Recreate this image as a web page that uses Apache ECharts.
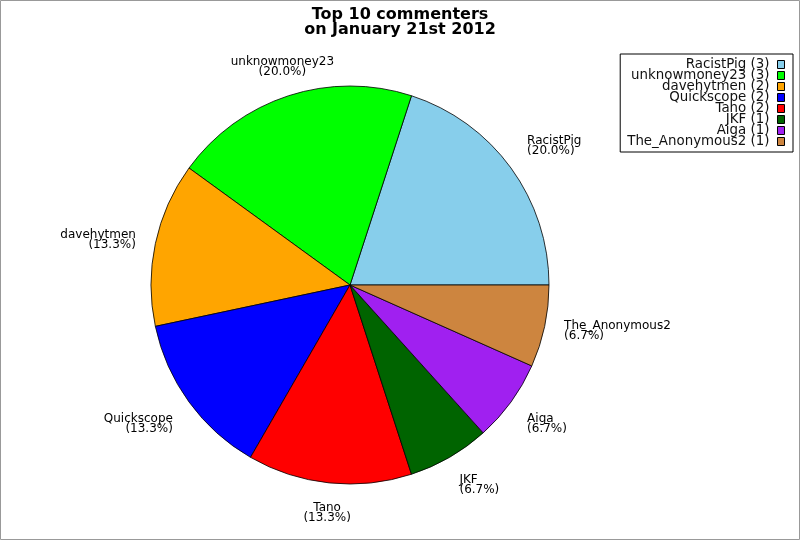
<!DOCTYPE html>
<html>
<head>
<meta charset="utf-8">
<script src="https://cdn.jsdelivr.net/npm/echarts@6/dist/echarts.min.js"></script>
<style>
    html, body { margin: 0; padding: 0; background: #fff; }
    #chart { width: 800px; height: 540px; }
</style>
</head>
<body>
<div id="chart"></div>
<script>
// 数据
const names = ["RacistPig", "unknowmoney23", "davehytmen", "Quickscope", "Tano", "JKF", "Aiga", "The_Anonymous2"];
const counts = [3, 3, 2, 2, 2, 1, 1, 1];
const colors = ["#87ceeb", "#00ff00", "#ffa500", "#0000ff", "#ff0000", "#006400", "#a020f0", "#cd853f"];

(function () {
    const my_echart = echarts.init(document.querySelector("#chart"));
    const total = counts.reduce(function (a, b) { return a + b; }, 0);
    const cx = 350, cy = 285, r = 199; //饼图圆心和半径（像素）

    //每块扇形中间的角度（从3点钟方向逆时针）
    const mid_angles = [];
    let cum = 0;
    counts.forEach(function (v) {
        mid_angles.push((cum + v / 2) / total * Math.PI * 2);
        cum += v;
    });

    const data = names.map(function (n, i) {
        return { name: n, value: counts[i], itemStyle: { color: colors[i] } };
    });

    let option = {
        backgroundColor: "#fff",
        animation: false,
        title: {
            text: "Top 10 commenters\non January 21st 2012",
            left: "center",
            top: 2,
            textStyle: {
                fontFamily: "DejaVu Sans",
                fontSize: 16,
                fontWeight: "bold",
                lineHeight: 15,
                color: "#000"
            }
        },
        legend: {
            orient: "vertical",
            right: 7,
            top: 54,
            align: "right",
            itemWidth: 7,
            itemHeight: 8,
            itemGap: -2,
            padding: [4, 8, 4, 7],
            borderColor: "#000",
            borderWidth: 1,
            icon: "rect",
            itemStyle: { borderColor: "#000", borderWidth: 1 },
            textStyle: {
                fontFamily: "DejaVu Sans",
                fontSize: 13.4,
                lineHeight: 11,
                color: "#111",
                padding: [0, 3, 0, 0]
            },
            formatter: function (name) {
                return name + " (" + counts[names.indexOf(name)] + ")";
            },
            data: names
        },
        graphic: [{
            type: "rect",
            shape: { x: 0.5, y: 0.5, width: 799, height: 539 },
            style: { fill: "none", stroke: "#999", lineWidth: 1 },
            silent: true
        }],
        series: [{
            type: "pie",
            center: [cx, cy],
            radius: [0, r],
            startAngle: 0,
            clockwise: false,
            avoidLabelOverlap: false,
            emphasis: { disabled: true },
            itemStyle: { borderColor: "#000", borderWidth: 0.8 },
            label: {
                show: true,
                position: "outside",
                fontFamily: "DejaVu Sans",
                fontSize: 12,
                lineHeight: 10,
                color: "#000",
                formatter: function (p) {
                    return p.name + "\n(" + (p.value / total * 100).toFixed(1) + "%)";
                }
            },
            labelLine: { show: false },
            //标签放在1.1倍半径处，按角度决定对齐方式
            labelLayout: function (params) {
                const a = mid_angles[params.dataIndex];
                const c = Math.cos(a), s = Math.sin(a);
                const lim = Math.sin(Math.PI / 8);
                return {
                    x: cx + 1.1 * r * c,
                    y: cy - 1.1 * r * s,
                    align: Math.abs(c) < lim ? "center" : (c > 0 ? "left" : "right"),
                    verticalAlign: Math.abs(s) < lim ? "middle" : (s > 0 ? "bottom" : "top")
                };
            },
            data: data
        }]
    };
    my_echart.setOption(option);
})();
</script>
</body>
</html>
